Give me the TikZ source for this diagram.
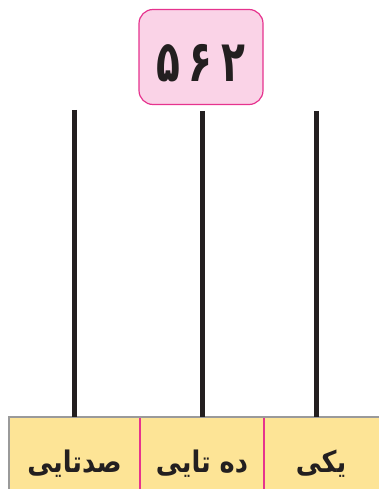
\documentclass[tikz,border=0pt]{standalone}
\usepackage{fontspec}
\newfontfamily\arabicfont[Script=Arabic]{DejaVu Sans}
\TeXXeTstate=1
\definecolor{boxpink}{HTML}{FAD3E7}
\definecolor{linepink}{HTML}{E6338E}
\definecolor{baseyellow}{HTML}{FDE496}
\definecolor{basegray}{HTML}{9A9A9A}
\definecolor{stickblack}{HTML}{231F20}
\tikzset{
  numbox/.style={draw=linepink, fill=boxpink, line width=1.2pt, rounded corners=14pt,
    minimum width=124pt, minimum height=95pt, inner sep=0pt, text height=50pt, text depth=0pt},
  cell/.style={minimum height=72pt, inner sep=0pt, text=stickblack, text height=38pt, text depth=0pt,
    font=\arabicfont\bfseries\fontsize{27}{32}\selectfont},
  stick/.style={draw=stickblack, line width=5pt},
}
\newcommand{\dg}[1]{\scalebox{0.85}[1.25]{#1}}
\begin{document}
\begin{tikzpicture}[x=1pt,y=-1pt]
\useasboundingbox (0,0) rectangle (378,489);
% base
\fill[baseyellow] (9,417) rectangle (381,492);
\draw[basegray, line width=1.6pt] (381,417) -- (9,417) -- (9,492);
\draw[linepink, line width=1.2pt] (140,418) -- (140,492);
\draw[linepink, line width=1.2pt] (264,418) -- (264,492);
% cells
\node[cell, minimum width=131pt] (hund) at (74.5,453) {\scalebox{0.95}[1.1]{\beginR صدتایی\endR}};
\node[cell, minimum width=124pt] (tens) at (202,453) {\scalebox{0.95}[1.1]{\beginR ده تایی\endR}};
\node[cell, minimum width=114pt] (ones) at (321,453) {\scalebox{0.95}[1.1]{\beginR یکی\endR}};
% number box
\node[numbox, text=stickblack, font=\arabicfont\bfseries\fontsize{46}{50}\selectfont] (num) at (201,57) {\dg{۵}\hspace{8pt}\dg{۶}\hspace{10pt}\dg{۲}};
% sticks
\coordinate (t1) at (74.5,110);
\coordinate (t2) at (202,111);
\coordinate (t3) at (316.5,111);
\draw[stick] (t1) -- (t1 |- hund.north);
\draw[stick] (t2) -- (t2 |- tens.north);
\draw[stick] (t3) -- (t3 |- ones.north);
\end{tikzpicture}
\end{document}
